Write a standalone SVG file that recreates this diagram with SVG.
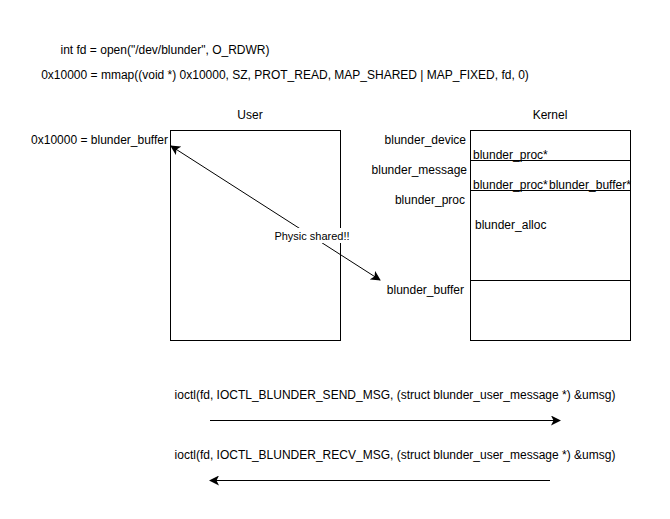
<svg xmlns="http://www.w3.org/2000/svg" width="670" height="519" viewBox="0 0 670 519">
<style>
text{font-family:"Liberation Sans",Arial,sans-serif;font-size:12px;fill:#000}
.box{fill:#fff;stroke:#000;stroke-width:1}
.ln{stroke:#000;stroke-width:1;fill:none}
.m{text-anchor:middle}.e{text-anchor:end}
</style>
<defs>
<marker id="ah" viewBox="0 0 10 10" refX="9" refY="5" markerWidth="10" markerHeight="10" markerUnits="userSpaceOnUse" orient="auto-start-reverse">
<path d="M0,0 L10,5 L0,10 L2.5,5 Z" fill="#000"/>
</marker>
</defs>
<rect width="670" height="519" fill="#fff"/>
<g id="code">
<text x="165" y="54" class="m">int fd = open("/dev/blunder", O_RDWR)</text>
<text x="285" y="79" class="m">0x10000 = mmap((void *) 0x10000, SZ, PROT_READ, MAP_SHARED | MAP_FIXED, fd, 0)</text>
</g>
<g id="user">
<text x="250" y="119" class="m">User</text>
<rect x="170.5" y="130.5" width="170" height="210" class="box"/>
<text x="168" y="144" class="e">0x10000 = blunder_buffer</text>
</g>
<g id="kernel">
<text x="550" y="119" class="m">Kernel</text>
<rect x="470.5" y="130.5" width="160" height="210" class="box"/>
<line x1="470.5" y1="160.5" x2="630.5" y2="160.5" class="ln"/>
<line x1="470.5" y1="190.5" x2="630.5" y2="190.5" class="ln"/>
<line x1="470.5" y1="280.5" x2="630.5" y2="280.5" class="ln"/>
<text x="466" y="144" class="e">blunder_device</text>
<text x="467" y="174" class="e">blunder_message</text>
<text x="465" y="204" class="e">blunder_proc</text>
<text x="464" y="294" class="e">blunder_buffer</text>
<text x="473" y="159">blunder_proc*</text>
<text x="473" y="189">blunder_proc*</text>
<text x="549" y="189">blunder_buffer*</text>
<text x="475" y="229">blunder_alloc</text>
</g>
<g id="connectors">
<line x1="171" y1="146" x2="380" y2="280" class="ln" marker-start="url(#ah)" marker-end="url(#ah)"/>
<rect x="274" y="228" width="77" height="15" fill="#fff"/>
<text x="312" y="240" class="m" style="font-size:11px">Physic shared!!</text>
<line x1="210" y1="420.5" x2="560" y2="420.5" class="ln" marker-end="url(#ah)"/>
<line x1="550" y1="480.5" x2="210" y2="480.5" class="ln" marker-end="url(#ah)"/>
</g>
<g id="ioctl">
<text x="395" y="399" class="m">ioctl(fd, IOCTL_BLUNDER_SEND_MSG, (struct blunder_user_message *) &amp;umsg)</text>
<text x="395" y="459" class="m">ioctl(fd, IOCTL_BLUNDER_RECV_MSG, (struct blunder_user_message *) &amp;umsg)</text>
</g>
</svg>
